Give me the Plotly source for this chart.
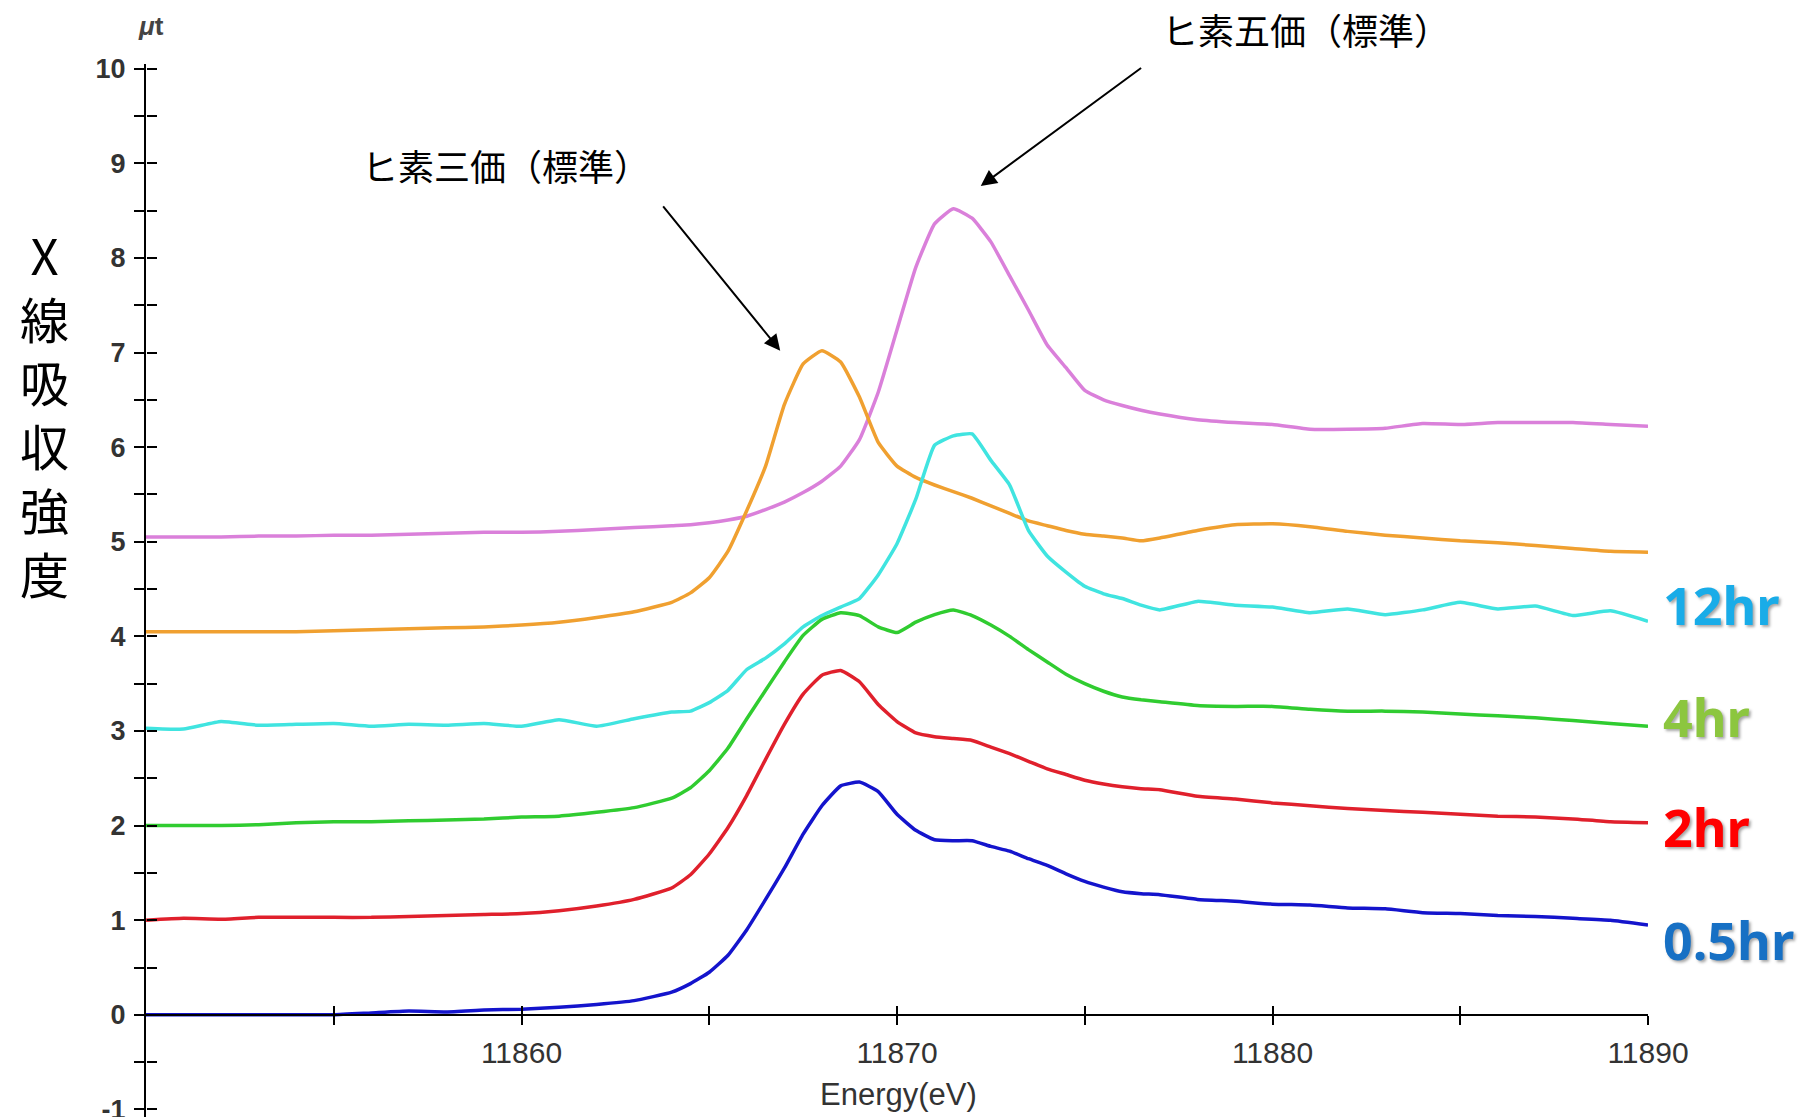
import plotly.graph_objects as go

# ---------------- data ----------------
energy = [11850, 11851, 11852, 11853, 11854, 11855, 11856, 11857, 11858, 11859,
          11860, 11861, 11862, 11863, 11864, 11864.5, 11865, 11865.5, 11866, 11866.5,
          11867, 11867.5, 11868, 11868.5, 11869, 11869.5, 11870, 11870.5, 11871, 11871.5,
          11872, 11872.5, 11873, 11873.5, 11874, 11874.5, 11875, 11875.5, 11876, 11876.5,
          11877, 11878, 11879, 11880, 11881, 11882, 11883, 11884, 11885, 11886,
          11887, 11888, 11889, 11890]

as5_std = [5.05, 5.05, 5.05, 5.06, 5.06, 5.07, 5.07, 5.08, 5.09, 5.10,
           5.10, 5.11, 5.13, 5.15, 5.17, 5.18, 5.20, 5.23, 5.27, 5.34,
           5.42, 5.52, 5.64, 5.80, 6.08, 6.58, 7.24, 7.90, 8.36, 8.52,
           8.42, 8.17, 7.81, 7.45, 7.08, 6.84, 6.60, 6.50, 6.44, 6.39,
           6.35, 6.29, 6.26, 6.24, 6.19, 6.19, 6.20, 6.25, 6.24, 6.26,
           6.26, 6.26, 6.24, 6.22]

as3_std = [4.05, 4.05, 4.05, 4.05, 4.05, 4.06, 4.07, 4.08, 4.09, 4.10,
           4.12, 4.15, 4.20, 4.26, 4.36, 4.46, 4.62, 4.90, 5.33, 5.80,
           6.45, 6.88, 7.02, 6.90, 6.53, 6.05, 5.80, 5.68, 5.60, 5.53,
           5.46, 5.38, 5.30, 5.22, 5.17, 5.12, 5.08, 5.06, 5.04, 5.01,
           5.04, 5.12, 5.18, 5.19, 5.16, 5.11, 5.07, 5.04, 5.01, 4.99,
           4.96, 4.93, 4.90, 4.89]

hr12 = [3.03, 3.02, 3.10, 3.06, 3.07, 3.08, 3.05, 3.07, 3.06, 3.08,
        3.05, 3.12, 3.05, 3.13, 3.20, 3.21, 3.30, 3.43, 3.65, 3.77,
        3.92, 4.10, 4.22, 4.31, 4.40, 4.65, 4.98, 5.45, 6.02, 6.12,
        6.14, 5.86, 5.60, 5.12, 4.85, 4.68, 4.53, 4.45, 4.40, 4.33,
        4.28, 4.37, 4.33, 4.31, 4.25, 4.29, 4.23, 4.28, 4.36, 4.29,
        4.32, 4.22, 4.27, 4.16]

hr4 = [2.00, 2.00, 2.00, 2.01, 2.03, 2.04, 2.04, 2.05, 2.06, 2.07,
       2.09, 2.10, 2.14, 2.19, 2.29, 2.40, 2.58, 2.82, 3.13, 3.43,
       3.73, 4.01, 4.18, 4.25, 4.22, 4.10, 4.04, 4.15, 4.23, 4.28,
       4.22, 4.12, 4.00, 3.86, 3.73, 3.60, 3.50, 3.42, 3.36, 3.33,
       3.31, 3.27, 3.26, 3.26, 3.23, 3.21, 3.21, 3.20, 3.18, 3.16,
       3.14, 3.11, 3.08, 3.05]

hr2 = [1.00, 1.02, 1.01, 1.03, 1.03, 1.03, 1.03, 1.04, 1.05, 1.06,
       1.07, 1.10, 1.15, 1.22, 1.34, 1.48, 1.70, 1.98, 2.32, 2.70,
       3.07, 3.39, 3.59, 3.64, 3.52, 3.28, 3.10, 2.98, 2.94, 2.92,
       2.90, 2.83, 2.76, 2.68, 2.60, 2.54, 2.48, 2.44, 2.41, 2.39,
       2.38, 2.31, 2.28, 2.24, 2.21, 2.18, 2.16, 2.14, 2.12, 2.10,
       2.09, 2.07, 2.04, 2.03]

hr05 = [0.00, 0.00, 0.00, 0.00, 0.00, 0.00, 0.02, 0.04, 0.03, 0.05,
        0.06, 0.08, 0.11, 0.15, 0.24, 0.33, 0.45, 0.63, 0.90, 1.22,
        1.55, 1.91, 2.21, 2.42, 2.46, 2.36, 2.12, 1.95, 1.85, 1.84,
        1.84, 1.78, 1.73, 1.65, 1.58, 1.49, 1.41, 1.35, 1.30, 1.28,
        1.27, 1.22, 1.20, 1.17, 1.16, 1.13, 1.12, 1.08, 1.07, 1.05,
        1.04, 1.02, 1.00, 0.95]

series_names = ["ヒ素五価(標準)", "ヒ素三価(標準)", "12hr", "4hr", "2hr", "0.5hr"]
series_values = [as5_std, as3_std, hr12, hr4, hr2, hr05]
line_colors = ["#DA80DA", "#F0A030", "#40E4E0", "#30CC30", "#E0202C", "#1414CC"]

y_tick_vals = [v / 2 for v in range(-2, 21)]
y_tick_text = [str(int(v)) if v == int(v) else "" for v in y_tick_vals]
x_tick_vals = [11855, 11860, 11865, 11870, 11875, 11880, 11885, 11890]
x_tick_text = ["", "11860", "", "11870", "", "11880", "", "11890"]

y_title = "X<br>線<br>吸<br>収<br>強<br>度"

end_labels = ["12hr", "4hr", "2hr", "0.5hr"]
end_label_colors = ["#19ACE8", "#8CC63F", "#FF0000", "#1770C4"]

Y_RANGE = [-1.08, 10.05]
X_RANGE = [11850, 11890]
x_axis_pos = (0 - Y_RANGE[0]) / (Y_RANGE[1] - Y_RANGE[0])

W, H = 1805, 1117
ML, MR, MT, MB = 146, 157, 64, 0
PW, PH = W - ML - MR, H - MT - MB


def px_to_paper(px, py):
    return (px - ML) / PW, (H - MB - py) / PH


fig = go.Figure()
for name, vals, col in zip(series_names, series_values, line_colors):
    fig.add_trace(go.Scatter(x=energy, y=vals, mode="lines", name=name,
                             line=dict(color=col, width=3.5, shape="spline", smoothing=0.4),
                             showlegend=False))

# helper trace for overlay axes (crossing tick marks)
fig.add_trace(go.Scatter(x=[None], y=[None], xaxis="x2", yaxis="y2", showlegend=False,
                         hoverinfo="skip"))

fig.update_layout(
    width=W, height=H,
    margin=dict(l=ML, r=MR, t=MT, b=MB, autoexpand=False),
    paper_bgcolor="white", plot_bgcolor="white",
    xaxis=dict(range=X_RANGE, anchor="free", position=x_axis_pos, automargin=False,
               showline=True, linecolor="black", linewidth=2,
               showgrid=False, zeroline=False,
               tickmode="array", tickvals=x_tick_vals, ticktext=x_tick_text,
               ticks="outside", ticklen=9, tickwidth=1.5, tickcolor="black",
               ticklabelstandoff=2,
               tickfont=dict(family="Liberation Sans, Arial", size=30, color="#333333")),
    yaxis=dict(range=Y_RANGE, automargin=False, showline=True, linecolor="black", linewidth=2,
               showgrid=False, zeroline=False,
               tickmode="array", tickvals=y_tick_vals, ticktext=y_tick_text,
               ticks="outside", ticklen=10, tickwidth=1.5, tickcolor="black",
               ticklabelstandoff=3, ticklabeloverflow="allow",
               tickfont=dict(family="Liberation Sans, Arial", size=27, color="#333333",
                             weight="bold")),
    xaxis2=dict(range=X_RANGE, overlaying="x", anchor="free", position=x_axis_pos,
                automargin=False,
                showline=False, showgrid=False, zeroline=False,
                tickmode="array", tickvals=x_tick_vals, ticks="inside", ticklen=9,
                tickwidth=1.5, tickcolor="black", showticklabels=False),
    yaxis2=dict(range=Y_RANGE, overlaying="y", anchor="free", position=0, side="left",
                automargin=False,
                showline=False, showgrid=False, zeroline=False,
                tickmode="array", tickvals=y_tick_vals, ticks="inside", ticklen=10,
                tickwidth=1.5, tickcolor="black", showticklabels=False),
)

ann = []
# y-axis title, stacked vertically
px, py = px_to_paper(44, 413)
ann.append(dict(text=y_title, xref="paper", yref="paper", x=px, y=py,
                xanchor="center", yanchor="middle", showarrow=False, align="center",
                font=dict(family="Noto Sans CJK JP", size=49, color="black")))
# unit label
px, py = px_to_paper(151, 26)
ann.append(dict(text="<i><b>μ</b></i><b>t</b>", xref="paper", yref="paper", x=px, y=py,
                xanchor="center", yanchor="middle", showarrow=False,
                font=dict(family="Liberation Sans, Arial", size=26, color="#444444")))
# x-axis title
px, py = px_to_paper(898, 1094)
ann.append(dict(text="Energy(eV)", xref="paper", yref="paper", x=px, y=py,
                xanchor="center", yanchor="middle", showarrow=False,
                font=dict(family="Liberation Sans, Arial", size=31, color="#333333")))
# standard labels with arrows
px, py = px_to_paper(506, 165)
ann.append(dict(text="ヒ素三価（標準）", xref="paper", yref="paper", x=px, y=py,
                xanchor="center", yanchor="middle",
                showarrow=False, font=dict(family="Noto Sans CJK JP", size=36, color="black")))
ann.append(dict(x=11866.89, y=7.02, ax=11863.74, ay=8.56, xref="x", yref="y",
                axref="x", ayref="y", text="", showarrow=True, arrowhead=2,
                arrowsize=1.6, arrowwidth=2, arrowcolor="black"))
px, py = px_to_paper(1306, 29)
ann.append(dict(text="ヒ素五価（標準）", xref="paper", yref="paper", x=px, y=py,
                xanchor="center", yanchor="middle",
                showarrow=False, font=dict(family="Noto Sans CJK JP", size=36, color="black")))
ann.append(dict(x=11872.23, y=8.76, ax=11876.54, ay=10.02, xref="x", yref="y",
                axref="x", ayref="y", text="", showarrow=True, arrowhead=2,
                arrowsize=1.6, arrowwidth=2, arrowcolor="black"))
# right-side time labels
end_label_py = [604, 716, 826, 939]
for lab, pyv, col in zip(end_labels, end_label_py, end_label_colors):
    px, py = px_to_paper(1661, pyv)
    ann.append(dict(text="<b>" + lab + "</b>", xref="paper", yref="paper", x=px, y=py,
                    xanchor="left", yanchor="middle", showarrow=False,
                    font=dict(family="Noto Sans, Open Sans", size=52, color=col,
                              shadow="2px 2px 3px rgba(0,0,0,0.35)")))
fig.update_layout(annotations=ann)

fig.write_html("out.html")
